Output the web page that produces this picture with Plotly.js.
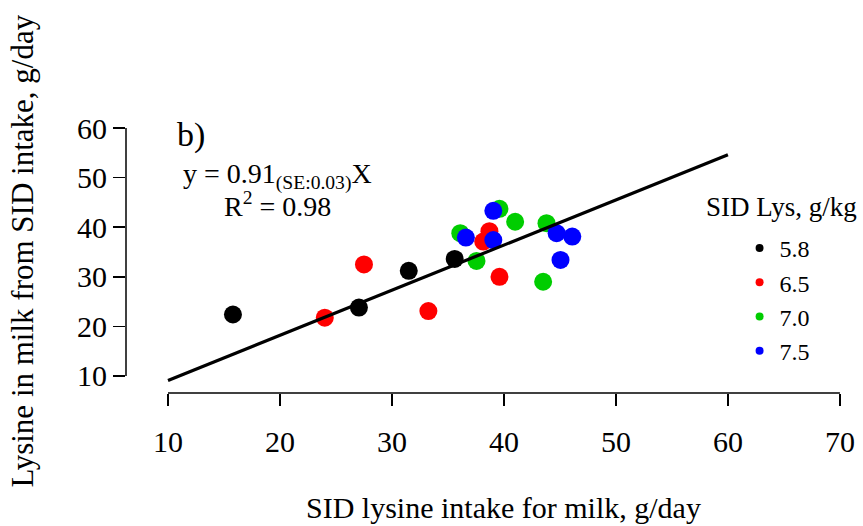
<!DOCTYPE html>
<html>
<head>
<meta charset="utf-8">
<script src="https://cdn.plot.ly/plotly-3.0.1.min.js"></script>
<style>html,body{margin:0;padding:0;background:#fff;}#chart{width:863px;height:526px;}</style>
</head>
<body>
<div id="chart"></div>
<script>
// Data
const groups = ["5.8", "6.5", "7.0", "7.5"];
const colors = ["#000000", "#FF0000", "#00CD00", "#0000FF"];

const x58 = [15.8, 27.05, 31.5, 35.6];
const y58 = [22.4, 23.8, 31.2, 33.6];

const x65 = [27.5, 24.0, 33.25, 38.7, 38.15, 39.6];
const y65 = [32.5, 21.75, 23.1, 39.2, 37.1, 30.0];

const x70 = [39.6, 41.0, 43.8, 36.1, 37.55, 43.5];
const y70 = [43.7, 41.1, 40.8, 38.8, 33.2, 29.0];

const x75 = [39.05, 36.6, 39.05, 44.7, 46.1, 45.05];
const y75 = [43.3, 37.9, 37.4, 38.8, 38.1, 33.4];

const fitX = [10, 60];
const fitY = [9.1, 54.6];

const xTicks = [10, 20, 30, 40, 50, 60, 70];
const yTicks = [10, 20, 30, 40, 50, 60];

const xs = [x58, x65, x70, x75];
const ys = [y58, y65, y70, y75];

const FONT = "Liberation Serif";
const traces = [];
for (let i = 0; i < groups.length; i++) {
  traces.push({
    type: "scatter", mode: "markers", x: xs[i], y: ys[i],
    name: groups[i], legendgroup: groups[i], showlegend: false,
    marker: {color: colors[i], size: 18, line: {width: 0}},
    hoverinfo: "x+y"
  });
}
// legend entries with small dots
for (let i = 0; i < groups.length; i++) {
  traces.push({
    type: "scatter", mode: "markers", x: [null], y: [null],
    name: groups[i], legendgroup: groups[i], showlegend: true,
    marker: {color: colors[i], size: 8}
  });
}
traces.push({
  type: "scatter", mode: "lines", x: fitX, y: fitY, showlegend: false,
  line: {color: "#000000", width: 3.2}, hoverinfo: "skip"
});

const layout = {
  width: 863, height: 526,
  margin: {l: 126, r: 13, t: 110, b: 133, autoexpand: false},
  paper_bgcolor: "#ffffff", plot_bgcolor: "#ffffff",
  font: {family: FONT, size: 28, color: "#000000"},
  showlegend: true,
  legend: {
    xref: "container", yref: "container",
    x: 0.857, y: 0.5703, xanchor: "left", yanchor: "top",
    font: {family: FONT, size: 24, color: "#000"}, bgcolor: "rgba(0,0,0,0)",
    itemsizing: "trace", tracegroupgap: 0
  },
  xaxis: {
    range: [6.25, 70.9], tickmode: "array", tickvals: xTicks,
    ticks: "outside", ticklen: 12, tickwidth: 1.5, tickcolor: "#000",
    showline: false, showgrid: false, zeroline: false,
    ticklabelstandoff: 10, automargin: false,
    tickfont: {family: FONT, size: 30, color: "#000"}
  },
  yaxis: {
    range: [6.57, 63.63], tickmode: "array", tickvals: yTicks,
    ticks: "outside", ticklen: 12, tickwidth: 1.5, tickcolor: "#000",
    showline: false, showgrid: false, zeroline: false, automargin: false,
    tickfont: {family: FONT, size: 30, color: "#000"}
  },
  shapes: [
    {type: "line", xref: "x", yref: "paper", x0: 10, x1: 70, y0: 0, y1: 0, line: {color: "#000", width: 1.5}},
    {type: "line", xref: "paper", yref: "y", x0: 0, x1: 0, y0: 10, y1: 60, line: {color: "#000", width: 1.5}}
  ],
  annotations: [
    {xref: "x", yref: "paper", x: 40, y: -0.405, yanchor: "middle", showarrow: false,
     text: "SID lysine intake for milk, g/day", font: {family: FONT, size: 30}},
    {xref: "paper", yref: "paper", x: -0.1436, y: 0.5, xanchor: "center", yanchor: "middle", textangle: -90, showarrow: false,
     text: "Lysine in milk from SID intake, g/day", font: {family: FONT, size: 31}},
    {xref: "paper", yref: "paper", x: 0.9047, y: 0.656, xanchor: "center", yanchor: "middle", showarrow: false,
     text: "SID Lys, g/kg", font: {family: FONT, size: 27}},
    {xref: "x", yref: "y", x: 10.6, y: 58.5, xanchor: "left", yanchor: "middle", showarrow: false,
     text: "b)", font: {family: FONT, size: 34}},
    {xref: "x", yref: "y", x: 11.2, y: 50.4, xanchor: "left", yanchor: "middle", showarrow: false,
     text: "y = 0.91<sub>(SE:0.03)</sub>X", font: {family: FONT, size: 28}},
    {xref: "x", yref: "y", x: 14.8, y: 44.6, xanchor: "left", yanchor: "middle", showarrow: false,
     text: "R<sup>2</sup> = 0.98", font: {family: FONT, size: 28}}
  ]
};

Plotly.newPlot("chart", traces, layout, {displayModeBar: false, staticPlot: true});
</script>
</body>
</html>
